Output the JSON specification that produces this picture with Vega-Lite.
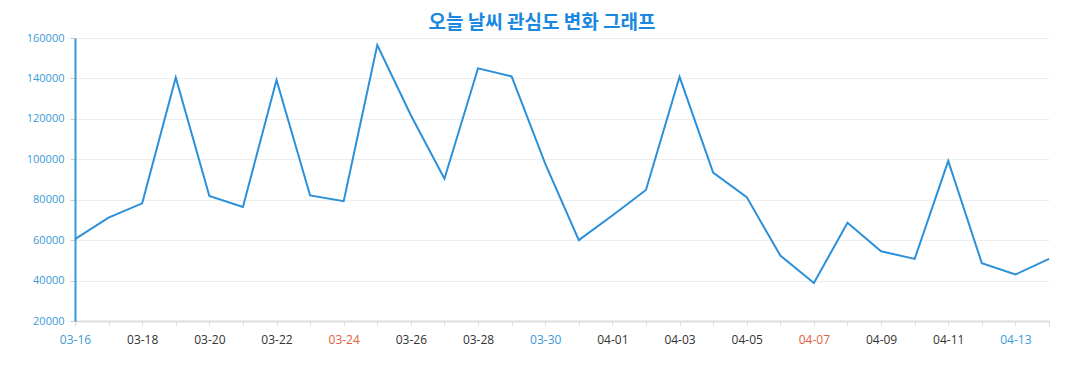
{
  "$schema": "https://vega.github.io/schema/vega-lite/v6.json",
  "autosize": {"type": "none"},
  "padding": {"left": 75, "top": 38, "right": 28, "bottom": 69},
  "width": 974,
  "height": 283,
  "background": "white",
  "title": {
    "text": "오늘 날씨 관심도 변화 그래프",
    "font": "Noto Sans CJK KR",
    "fontSize": 19,
    "fontWeight": "bold",
    "color": "#1a88e0",
    "anchor": "middle",
    "dx": -20,
    "offset": -1
  },
  "data": {
    "values": [
      {"date": "03-16", "value": 60500},
      {"date": "03-17", "value": 71100},
      {"date": "03-18", "value": 78200},
      {"date": "03-19", "value": 140500},
      {"date": "03-20", "value": 81800},
      {"date": "03-21", "value": 76400},
      {"date": "03-22", "value": 139200},
      {"date": "03-23", "value": 82100},
      {"date": "03-24", "value": 79300},
      {"date": "03-25", "value": 156500},
      {"date": "03-26", "value": 121800},
      {"date": "03-27", "value": 90400},
      {"date": "03-28", "value": 145000},
      {"date": "03-29", "value": 141000},
      {"date": "03-30", "value": 97900},
      {"date": "03-31", "value": 60000},
      {"date": "04-01", "value": 72200},
      {"date": "04-02", "value": 84800},
      {"date": "04-03", "value": 140800},
      {"date": "04-04", "value": 93400},
      {"date": "04-05", "value": 81300},
      {"date": "04-06", "value": 52400},
      {"date": "04-07", "value": 38800},
      {"date": "04-08", "value": 68600},
      {"date": "04-09", "value": 54500},
      {"date": "04-10", "value": 50700},
      {"date": "04-11", "value": 99200},
      {"date": "04-12", "value": 48600},
      {"date": "04-13", "value": 43000},
      {"date": "04-14", "value": 50700}
    ]
  },
  "mark": {"type": "line", "color": "#2b90d9", "strokeWidth": 2},
  "encoding": {
    "x": {
      "field": "date",
      "type": "ordinal",
      "sort": null,
      "scale": {"type": "point", "padding": 0},
      "axis": {
        "title": null,
        "labelAngle": 0,
        "labelFont": "Open Sans",
        "labelFontSize": 12,
        "labelPadding": 8,
        "labelExpr": "indexof(['03-16','03-18','03-20','03-22','03-24','03-26','03-28','03-30','04-01','04-03','04-05','04-07','04-09','04-11','04-13'], datum.value) >= 0 ? datum.label : ''",
        "labelColor": {"expr": "datum.value == '03-24' || datum.value == '04-07' ? '#e0603f' : (datum.value == '03-16' || datum.value == '03-30' || datum.value == '04-13' ? '#3a9ad9' : '#333333')"},
        "labelOverlap": false,
        "domainColor": "#dddddd",
        "domainWidth": 2,
        "tickColor": "#dddddd",
        "tickSize": 5,
        "grid": false
      }
    },
    "y": {
      "field": "value",
      "type": "quantitative",
      "scale": {"domain": [20000, 160000], "nice": false, "zero": false},
      "axis": {
        "title": null,
        "values": [20000, 40000, 60000, 80000, 100000, 120000, 140000, 160000],
        "format": "d",
        "labelFont": "Open Sans",
        "labelFontSize": 11,
        "labelColor": "#3a9ad9",
        "labelPadding": 6,
        "domainColor": "#3a9ad9",
        "domainWidth": 2,
        "tickColor": "#cccccc",
        "tickSize": 5,
        "gridColor": "#eeeeee",
        "gridWidth": 1
      }
    }
  },
  "config": {"view": {"stroke": null}}
}
